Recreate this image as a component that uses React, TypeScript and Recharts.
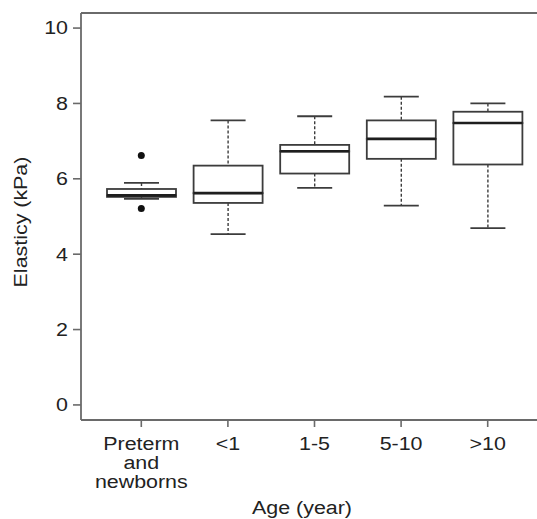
import { ComposedChart, Bar, Scatter, XAxis, YAxis, ReferenceLine } from 'recharts';

const categories = ['Preterm\nand\nnewborns', '<1', '1-5', '5-10', '>10'];
const lowerWhisker = [5.47, 4.53, 5.76, 5.29, 4.69];
const q1 = [5.52, 5.36, 6.14, 6.53, 6.38];
const median = [5.56, 5.62, 6.73, 7.06, 7.48];
const q3 = [5.73, 6.35, 6.9, 7.55, 7.78];
const upperWhisker = [5.89, 7.55, 7.66, 8.18, 8.0];
// outliers (only the first group has them)
const outlierHigh = [6.62, null, null, null, null];
const outlierLow = [5.21, null, null, null, null];
const yTicks = [0, 2, 4, 6, 8, 10];

const boxData = categories.map((name, i) => ({
  name,
  base: lowerWhisker[i],
  lowW: q1[i] - lowerWhisker[i],
  boxLo: median[i] - q1[i],
  boxHi: q3[i] - median[i],
  upW: upperWhisker[i] - q3[i],
  outHi: outlierHigh[i],
  outLo: outlierLow[i],
}));

const FONT = '"Liberation Sans", Arial, Helvetica, sans-serif';
const STRETCH = 1.19;
const LINE = '#3c3c3c';
const AXIS = '#6a6a6a';
const CAP = 35;

const Empty = () => <g />;

const LowerWhisker = ({ x, y, width, height }: any) => {
  const cx = x + width / 2;
  const bottom = y + height;
  return (
    <g>
      <line x1={cx} x2={cx} y1={y} y2={bottom} stroke={LINE} strokeWidth={1.4} strokeDasharray="3 2" />
      <line x1={cx - CAP / 2} x2={cx + CAP / 2} y1={bottom} y2={bottom} stroke={LINE} strokeWidth={1.8} />
    </g>
  );
};

const UpperWhisker = ({ x, y, width, height }: any) => {
  const cx = x + width / 2;
  return (
    <g>
      <line x1={cx} x2={cx} y1={y} y2={y + height} stroke={LINE} strokeWidth={1.4} strokeDasharray="3 2" />
      <line x1={cx - CAP / 2} x2={cx + CAP / 2} y1={y} y2={y} stroke={LINE} strokeWidth={1.8} />
    </g>
  );
};

const BoxLower = ({ x, y, width, height }: any) => (
  <rect x={x} y={y} width={width} height={Math.max(height, 0)} fill="#fff" stroke={LINE} strokeWidth={1.8} />
);

const BoxUpper = ({ x, y, width, height }: any) => (
  <g>
    <rect x={x} y={y} width={width} height={Math.max(height, 0)} fill="#fff" stroke={LINE} strokeWidth={1.8} />
    <line x1={x} x2={x + width} y1={y + height} y2={y + height} stroke="#1e1e1e" strokeWidth={2.6} />
  </g>
);

const Dot = ({ cx, cy, payload, dataKey }: any) => {
  const v = payload ? payload[dataKey] : null;
  if (v == null || !Number.isFinite(cy) || !Number.isFinite(cx)) return <g />;
  return <circle cx={cx} cy={cy} r={3.5} fill="#111" />;
};

const YTick = ({ x, y, payload }: any) => (
  <text
    transform={`translate(${x},${y}) scale(${STRETCH},1)`}
    textAnchor="end"
    dy="0.355em"
    fontFamily={FONT}
    fontSize={18}
    fill="#222"
  >
    {payload.value}
  </text>
);

const XTick = ({ x, y, payload }: any) => {
  const lines = String(payload.value).split('\n');
  return (
    <text transform={`translate(${x},${y}) scale(${STRETCH},1)`} textAnchor="middle" fontFamily={FONT} fontSize={18} fill="#222">
      {lines.map((l, i) => (
        <tspan key={i} x={0} y={21 + i * 19}>
          {l}
        </tspan>
      ))}
    </text>
  );
};

const XTitle = () => (
  <text transform={`translate(302,514) scale(${STRETCH},1)`} textAnchor="middle" fontFamily={FONT} fontSize={18} fill="#222">
    Age (year)
  </text>
);

const YTitle = () => (
  <text
    transform={`translate(27,222) rotate(-90) scale(${STRETCH},1)`}
    textAnchor="middle"
    fontFamily={FONT}
    fontSize={18}
    fill="#222"
  >
    Elasticy (kPa)
  </text>
);

export default function App() {
  return (
    <div style={{ position: 'absolute', left: 0, top: 0, width: 537, height: 519, overflow: 'hidden', background: '#fff' }}>
      <ComposedChart width={560} height={519} data={boxData} margin={{ top: 13, right: 12, bottom: 0, left: 0 }}>
        <XAxis
          dataKey="name"
          type="category"
          height={99}
          padding={{ left: 17, right: 17 }}
          tickSize={7}
          tickMargin={2}
          tick={<XTick />}
          tickLine={{ stroke: AXIS, strokeWidth: 1.6 }}
          axisLine={{ stroke: AXIS, strokeWidth: 1.8 }}
          interval={0}
          label={<XTitle />}
        />
        <YAxis
          type="number"
          domain={[-0.4, 10.4]}
          ticks={yTicks}
          allowDataOverflow
          width={81}
          tickSize={8}
          tickMargin={5}
          tick={<YTick />}
          tickLine={{ stroke: AXIS, strokeWidth: 1.6 }}
          axisLine={{ stroke: AXIS, strokeWidth: 1.8 }}
          label={<YTitle />}
        />
        <ReferenceLine y={10.4} stroke={AXIS} strokeWidth={1.8} />
        <Bar dataKey="base" stackId="box" barSize={69} shape={<Empty />} isAnimationActive={false} />
        <Bar dataKey="lowW" stackId="box" barSize={69} shape={<LowerWhisker />} isAnimationActive={false} />
        <Bar dataKey="boxLo" stackId="box" barSize={69} shape={<BoxLower />} isAnimationActive={false} />
        <Bar dataKey="boxHi" stackId="box" barSize={69} shape={<BoxUpper />} isAnimationActive={false} />
        <Bar dataKey="upW" stackId="box" barSize={69} shape={<UpperWhisker />} isAnimationActive={false} />
        <Scatter dataKey="outHi" shape={<Dot dataKey="outHi" />} isAnimationActive={false} />
        <Scatter dataKey="outLo" shape={<Dot dataKey="outLo" />} isAnimationActive={false} />
      </ComposedChart>
    </div>
  );
}
